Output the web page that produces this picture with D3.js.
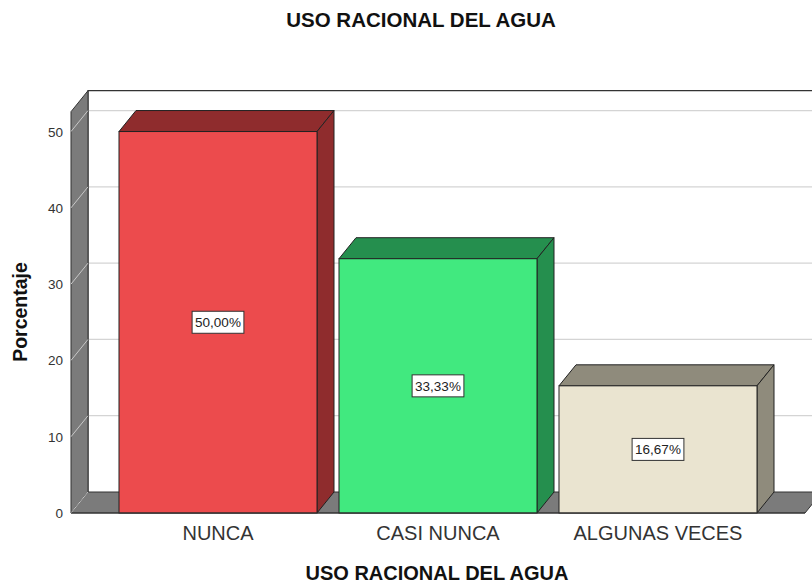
<!DOCTYPE html>
<html lang="es">
<head>
  <meta charset="UTF-8">
  <title>Uso racional del agua</title>
  <style>
    body { margin: 0; overflow: hidden; background: #fff; }
    svg { display: block; font-family: "Liberation Sans", Arial, sans-serif; }
    .tick-label { font-size: 13.5px; fill: #333; }
    .cat-label { font-size: 20px; fill: #333; }
    .title { font-size: 20.5px; font-weight: bold; fill: #111; }
    .value-label { font-size: 13.5px; fill: #222; }
  </style>
  <script src="https://d3js.org/d3.v7.min.js"></script>
</head>
<body>
  <svg width="812" height="587"></svg>
  <script>
    const categories = ["NUNCA", "CASI NUNCA", "ALGUNAS VECES"];
    const percents = [50.00, 33.33, 16.67];
    const valueLabels = ["50,00%", "33,33%", "16,67%"];
    const yTicks = [0, 10, 20, 30, 40, 50];
    const frontColors = ["#ec4b4d", "#41e97f", "#eae4d0"];
    const sideColors = ["#8f2c2d", "#258f4e", "#8f8b7c"];

    const width = 812, height = 587;
    const dx = 17, dy = -21;           // depth offset of the 3d box
    const plotLeft = 71, plotRight = 805;

    const svg = d3.select("svg");

    const y = d3.scaleLinear().domain([0, 52.6]).range([513, 111.7]);
    const x = d3.scaleBand().domain(categories)
      .range([108, 768]).paddingInner(0.1).paddingOuter(0.05);

    const poly = pts => "M" + pts.map(p => p.join(",")).join("L") + "Z";

    // back wall
    svg.append("rect")
      .attr("x", plotLeft + dx).attr("y", y(52.6) + dy)
      .attr("width", width).attr("height", y(0) - y(52.6))
      .attr("fill", "#fff");

    svg.append("g").selectAll("line")
      .data(yTicks.filter(d => d > 0))
      .join("line")
      .attr("x1", plotLeft + dx).attr("x2", width)
      .attr("y1", d => y(d) + dy).attr("y2", d => y(d) + dy)
      .attr("stroke", "#d4d4d4").attr("stroke-width", 1.2);

    svg.append("path")
      .attr("d", `M${plotLeft + dx},${y(0) + dy}V${y(52.6) + dy}H${width}`)
      .attr("fill", "none").attr("stroke", "#333").attr("stroke-width", 1.2);

    // left wall
    svg.append("path")
      .attr("d", poly([[plotLeft, y(0)], [plotLeft, y(52.6)], [plotLeft + dx, y(52.6) + dy], [plotLeft + dx, y(0) + dy]]))
      .attr("fill", "#7b7b7b").attr("stroke", "#333").attr("stroke-width", 1);

    // floor
    svg.append("path")
      .attr("d", poly([[plotLeft, y(0)], [plotLeft + dx, y(0) + dy], [plotRight + dx, y(0) + dy], [plotRight, y(0)]]))
      .attr("fill", "#7b7b7b").attr("stroke", "#333").attr("stroke-width", 1);

    // tick lines across the left wall
    svg.append("g").selectAll("line")
      .data(yTicks)
      .join("line")
      .attr("x1", plotLeft).attr("x2", plotLeft + dx)
      .attr("y1", d => y(d)).attr("y2", d => y(d) + dy)
      .attr("stroke", "#c8c8c8").attr("stroke-width", 1);

    svg.append("g").selectAll("text")
      .data(yTicks)
      .join("text")
      .attr("class", "tick-label")
      .attr("x", 63).attr("y", d => y(d) + 5)
      .attr("text-anchor", "end")
      .text(d => d);

    // bars
    const bars = svg.append("g").selectAll("g")
      .data(categories.map((c, i) => ({c, v: percents[i], i})))
      .join("g");

    bars.append("path")
      .attr("d", d => {
        const x0 = x(d.c), x1 = x0 + x.bandwidth(), t = y(d.v);
        return poly([[x0, t], [x0 + dx, t + dy], [x1 + dx, t + dy], [x1, t]]);
      })
      .attr("fill", d => sideColors[d.i]).attr("stroke", "#222").attr("stroke-width", 1);

    bars.append("path")
      .attr("d", d => {
        const x1 = x(d.c) + x.bandwidth(), t = y(d.v);
        return poly([[x1, t], [x1 + dx, t + dy], [x1 + dx, y(0) + dy], [x1, y(0)]]);
      })
      .attr("fill", d => sideColors[d.i]).attr("stroke", "#222").attr("stroke-width", 1);

    bars.append("rect")
      .attr("x", d => x(d.c)).attr("y", d => y(d.v))
      .attr("width", x.bandwidth()).attr("height", d => y(0) - y(d.v))
      .attr("fill", d => frontColors[d.i]).attr("stroke", "#222").attr("stroke-width", 1);

    // value boxes
    bars.each(function(d) {
      const g = d3.select(this);
      const cx = x(d.c) + x.bandwidth() / 2;
      const cy = (y(d.v) + y(0)) / 2;
      const t = g.append("text")
        .attr("class", "value-label")
        .attr("x", cx).attr("y", cy + 5)
        .attr("text-anchor", "middle")
        .text(valueLabels[d.i]);
      const bb = t.node().getBBox();
      g.insert("rect", "text")
        .attr("x", bb.x - 3).attr("y", cy - 11)
        .attr("width", bb.width + 6).attr("height", 22)
        .attr("fill", "#fff").attr("stroke", "#333").attr("stroke-width", 1);
    });

    // front baseline
    svg.append("line")
      .attr("x1", plotLeft).attr("x2", plotRight)
      .attr("y1", y(0)).attr("y2", y(0))
      .attr("stroke", "#333").attr("stroke-width", 1.2);

    svg.append("g").selectAll("text")
      .data(categories)
      .join("text")
      .attr("class", "cat-label")
      .attr("x", d => x(d) + x.bandwidth() / 2).attr("y", 540)
      .attr("text-anchor", "middle")
      .text(d => d);

    // titles
    svg.append("text").attr("class", "title")
      .attr("x", 421).attr("y", 27).attr("text-anchor", "middle")
      .text("USO RACIONAL DEL AGUA");

    svg.append("text").attr("class", "title")
      .attr("x", 437).attr("y", 580).attr("text-anchor", "middle")
      .style("font-size", "20px")
      .text("USO RACIONAL DEL AGUA");

    svg.append("text").attr("class", "title")
      .attr("transform", "translate(27,312) rotate(-90)")
      .attr("text-anchor", "middle")
      .style("font-size", "19.5px")
      .text("Porcentaje");
  </script>
</body>
</html>
